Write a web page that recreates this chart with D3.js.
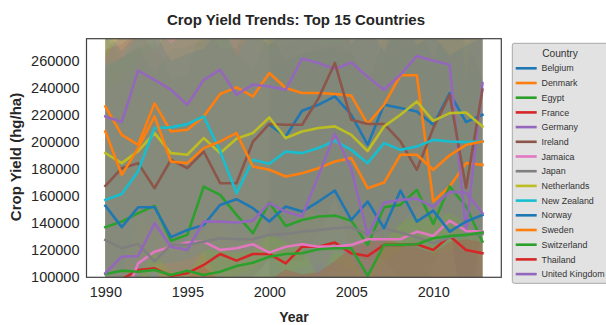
<!DOCTYPE html>
<html>
<head>
<meta charset="utf-8">
<script src="https://cdn.jsdelivr.net/npm/d3@7"></script>
<style>
  body { margin: 0; background: #fff; }
  svg { display: block; }
  text { font-family: "Liberation Sans", Arial, sans-serif; }
</style>
</head>
<body>
<svg id="chart" width="606" height="325"></svg>
<script>
// Years on the x axis
const years = [1990,1991,1992,1993,1994,1995,1996,1997,1998,1999,2000,2001,
               2002,2003,2004,2005,2006,2007,2008,2009,2010,2011,2012,2013];

const countries = ["Belgium","Denmark","Egypt","France","Germany","Ireland","Jamaica",
                   "Japan","Netherlands","New Zealand","Norway","Sweden","Switzerland",
                   "Thailand","United Kingdom"];

const palette = ["#1f77b4","#ff7f0e","#2ca02c","#d62728","#9467bd","#8c564b","#e377c2",
                 "#7f7f7f","#bcbd22","#17becf","#1f77b4","#ff7f0e","#2ca02c","#d62728","#9467bd"];

const yTicks = [100000,120000,140000,160000,180000,200000,220000,240000,260000];
const xTicks = [1990,1995,2000,2005,2010];

// Mean yield per year (hg/ha)
const belgium = [null,null,null,null,null,null,null,null,null,null,
  212500,203900,222900,227300,233400,219900,197700,227300,224900,222300,212500,235900,214500,219900];
const denmark = [226000,205100,197700,228300,207600,208800,218700,235200,240100,233400,250700,239600,
  235900,235900,235200,234000,213000,227300,249000,249000,155900,167000,184200,183000];
const egypt = [137000,141100,147300,152700,127000,131300,166900,160800,146000,132500,155100,137900,
  142300,144800,145500,141800,123900,151700,153400,164500,139400,167000,152200,126300];
const france = [96000,98500,105400,106600,101000,103000,109100,117200,112300,117200,117200,110300,
  122600,122600,125600,117700,115700,123900,123900,124400,120200,130500,120200,117700];
const germany = [218600,214500,252400,245700,238400,227300,245700,253200,234700,242100,240800,238400,
  261300,258000,253700,258500,248000,238400,249400,263300,259800,256800,133700,243300];
const ireland = [167400,180500,184200,165700,186700,180500,192800,169400,169400,200000,213100,212500,
  212500,232000,258100,216200,213100,213100,200200,179300,210000,234700,165700,238400];
const jamaica = [78000,80000,110300,118900,122600,125600,126300,120200,121400,124400,118200,122600,
  124400,122600,122600,123900,128100,128100,128100,133700,130500,141800,134200,133700];
const japan = [127500,121400,124600,111800,123900,123900,126300,128800,128100,128100,131300,132000,
  133700,134900,136200,137000,131300,136200,133000,129600,125100,129600,131300,132000];
const netherlands = [191600,184200,193100,206400,191600,190400,202700,191600,202200,206400,217900,202700,
  207600,210100,211300,205100,193100,211300,219900,229700,215400,221100,221600,211300];
const newZealand = [157100,161500,178300,210100,210600,213000,218700,193000,162000,186700,183700,192800,
  191600,195300,200700,194000,184200,199000,194000,196500,201400,200200,199700,200200];
const norway = [152700,137000,151700,151700,129600,134900,138600,153400,157600,151000,141100,152200,
  148500,155900,164000,142300,155900,136200,164000,141100,149200,133700,141100,146000];
const sweden = [207600,175600,195300,218700,185400,184200,195300,200200,206400,181700,179300,174300,
  176800,180500,185400,187900,165700,169900,190400,190400,179300,190000,197700,200200];
const switzerland = [102400,104900,104100,105400,101700,104900,101700,104100,108300,110800,115200,117200,
  117700,120700,121400,121400,101000,123900,123900,124400,128800,130500,131300,133000];
const thailand = [84000,86000,87000,85000,89000,88000,90000,86000,91000,92000,89000,93000,
  94000,92000,95000,93000,96000,94000,97000,95000,96000,98000,97000,96000];
const unitedKingdom = [103000,115200,115700,139900,122600,120200,141100,141100,140400,141800,154700,148500,
  144800,175000,205900,180000,131300,155000,157200,158000,152000,163000,162500,147300];

// 95% confidence bands (lower / upper)
const belgiumLow = [null,null,null,null,null,null,null,null,null,null,
  60000,52000,70000,74000,80000,66000,48000,74000,72000,70000,60000,82000,62000,66000];
const belgiumHigh = [null,null,null,null,null,null,null,null,null,null,
  365000,356000,376000,380000,388000,372000,348000,380000,378000,375000,366000,390000,368000,374000];
const denmarkLow = [70000,52000,44000,74000,54000,56000,66000,82000,86000,80000,96000,86000,
  82000,82000,82000,80000,60000,74000,94000,94000,10000,20000,34000,32000];
const denmarkHigh = [382000,358000,352000,384000,362000,362000,372000,390000,395000,388000,405000,394000,
  390000,390000,390000,388000,366000,380000,404000,404000,302000,314000,334000,332000];
const egyptLow = [20000,24000,30000,34000,8000,12000,46000,40000,26000,12000,34000,16000,
  22000,24000,24000,20000,4000,30000,32000,44000,18000,46000,32000,6000];
const egyptHigh = [254000,262000,268000,275000,246000,250000,292000,285000,266000,253000,280000,260000,
  265000,268000,270000,266000,244000,276000,278000,290000,262000,292000,276000,248000];
const franceLow = [6000,8500,15000,16000,11000,13000,19000,27000,22000,27000,27000,20000,
  32000,32000,35000,27000,25000,33000,33000,34000,30000,40000,30000,27000];
const franceHigh = [268000,272000,282000,284000,276000,280000,286000,296000,290000,296000,296000,288000,
  302000,302000,306000,296000,294000,304000,304000,304000,300000,312000,300000,296000];
const germanyLow = [108000,104000,142000,135000,128000,117000,135000,143000,124000,132000,130000,128000,
  151000,148000,143000,148000,138000,128000,139000,153000,150000,147000,23000,133000];
const germanyHigh = [328000,324000,362000,356000,348000,337000,356000,363000,344000,352000,350000,348000,
  371000,368000,363000,368000,358000,348000,359000,373000,370000,367000,243000,353000];
const irelandLow = [67000,80000,84000,66000,87000,80000,93000,69000,69000,100000,113000,112000,
  112000,132000,158000,116000,113000,113000,100000,79000,110000,135000,66000,138000];
const irelandHigh = [267000,280000,284000,266000,287000,280000,293000,269000,269000,300000,313000,312000,
  312000,332000,358000,316000,313000,313000,300000,279000,310000,335000,266000,338000];
const jamaicaLow = [-40000,-38000,-8000,0,4000,7000,8000,2000,3000,6000,0,4000,
  6000,4000,4000,6000,10000,10000,10000,15000,12000,23000,16000,15000];
const jamaicaHigh = [240000,245000,262000,270000,275000,282000,284000,268000,270000,276000,266000,272000,
  276000,272000,272000,276000,282000,282000,282000,292000,286000,300000,290000,290000];
const japanLow = [-20000,-26000,-22000,-36000,-24000,-24000,-21000,-18000,-19000,-19000,-16000,-15000,
  -13000,-12000,-11000,-10000,-16000,-11000,-14000,-18000,-22000,-18000,-16000,-15000];
const japanHigh = [278000,262000,270000,250000,268000,270000,275000,282000,280000,280000,286000,288000,
  290000,292000,294000,296000,285000,294000,290000,284000,275000,284000,288000,290000];
const netherlandsLow = [91600,84200,93100,106400,91600,90400,102700,91600,102200,106400,117900,102700,
  107600,110100,111300,105100,93100,111300,119900,129700,115400,121100,121600,111300];
const netherlandsHigh = [291600,284200,293100,306400,291600,290400,302700,291600,302200,306400,317900,302700,
  307600,310100,311300,305100,293100,311300,319900,329700,315400,321100,321600,311300];
const newZealandLow = [57000,61500,78000,110000,110600,113000,118700,93000,62000,86700,83700,92800,
  91600,95300,100700,94000,84200,99000,94000,96500,101400,100200,99700,100200];
const newZealandHigh = [257000,261500,278000,310000,310600,313000,318700,293000,262000,286700,283700,292800,
  291600,295300,300700,294000,284200,299000,294000,296500,301400,300200,299700,300200];
const norwayLow = [22700,7000,21700,21700,-400,4900,8600,23400,27600,21000,11100,22200,
  18500,25900,34000,12300,25900,6200,34000,11100,19200,3700,11100,16000];
const norwayHigh = [282700,267000,281700,281700,259600,264900,268600,283400,287600,281000,271100,282200,
  278500,285900,294000,272300,285900,266200,294000,271100,279200,263700,271100,276000];
const swedenLow = [97600,65600,85300,108700,75400,74200,85300,90200,96400,71700,69300,64300,
  66800,70500,75400,77900,55700,59900,80400,80400,69300,80000,87700,90200];
const swedenHigh = [317600,285600,305300,328700,295400,294200,305300,310200,316400,291700,289300,284300,
  286800,290500,295400,297900,275700,279900,300400,300400,289300,300000,307700,310200];
const switzerlandLow = [-60000,-58000,-58000,-57000,-60000,-58000,-60000,-58000,-55000,-52000,-48000,-46000,
  -45000,-42000,-41000,-41000,-60000,-38000,-38000,-38000,-34000,-32000,-32000,-30000];
const switzerlandHigh = [282000,284000,276000,286000,272000,284000,278000,284000,290000,295000,300000,304000,
  305000,310000,312000,312000,290000,315000,314000,316000,320000,324000,325000,328000];
const thailandLow = [30000,32000,33000,31000,35000,34000,36000,32000,37000,38000,35000,39000,
  40000,38000,41000,39000,42000,40000,43000,41000,42000,44000,43000,42000];
const thailandHigh = [85000,88000,92000,95000,97000,100000,108000,98000,100000,96000,98000,106000,
  102000,104000,112000,122000,126000,128000,125000,122000,118000,126000,128000,126000];
const unitedKingdomLow = [88000,98000,99000,118000,104000,102000,120000,120000,118000,120000,132000,126000,
  122000,100000,120000,115000,95000,125000,140000,145000,140000,148000,140000,125000];
const unitedKingdomHigh = [262000,280000,282000,305000,290000,288000,308000,308000,306000,308000,320000,314000,
  310000,345000,372000,350000,300000,322000,324000,326000,318000,330000,330000,315000];

const means = [belgium,denmark,egypt,france,germany,ireland,jamaica,japan,netherlands,
               newZealand,norway,sweden,switzerland,thailand,unitedKingdom];
const lows = [belgiumLow,denmarkLow,egyptLow,franceLow,germanyLow,irelandLow,jamaicaLow,japanLow,
              netherlandsLow,newZealandLow,norwayLow,swedenLow,switzerlandLow,thailandLow,unitedKingdomLow];
const highs = [belgiumHigh,denmarkHigh,egyptHigh,franceHigh,germanyHigh,irelandHigh,jamaicaHigh,japanHigh,
               netherlandsHigh,newZealandHigh,norwayHigh,swedenHigh,switzerlandHigh,thailandHigh,unitedKingdomHigh];

const series = countries.map((name, i) => ({
  name,
  color: palette[i],
  points: years.map((yr, j) => ({ year: yr, v: means[i][j], lo: lows[i][j], hi: highs[i][j] }))
}));

// Layout
const plot = { left: 86.5, right: 501.3, top: 38.7, bottom: 277.3 };

const x = d3.scaleLinear().domain([1988.85, 2014.15]).range([plot.left, plot.right]);
const y = d3.scaleLinear().domain([100000, 276000]).range([plot.bottom, plot.top]);

const svg = d3.select("#chart");
svg.append("rect").attr("width", 606).attr("height", 325).attr("fill", "#fff");

svg.append("defs").append("clipPath").attr("id", "plot-clip")
  .append("rect")
  .attr("x", plot.left).attr("y", plot.top)
  .attr("width", plot.right - plot.left).attr("height", plot.bottom - plot.top);

const body = svg.append("g").attr("clip-path", "url(#plot-clip)");

// Confidence bands underneath every line
const band = d3.area()
  .defined(d => d.lo != null && d.hi != null)
  .x(d => x(d.year))
  .y0(d => y(d.lo))
  .y1(d => y(d.hi));

body.selectAll("path.band").data(series).join("path")
  .attr("class", "band")
  .attr("d", s => band(s.points))
  .attr("fill", s => s.color)
  .attr("fill-opacity", 0.2)
  .attr("stroke", "none");

// Mean lines
const line = d3.line()
  .defined(d => d.v != null)
  .x(d => x(d.year))
  .y(d => y(d.v));

body.selectAll("path.trend").data(series).join("path")
  .attr("class", "trend")
  .attr("d", s => line(s.points))
  .attr("fill", "none")
  .attr("stroke", s => s.color)
  .attr("stroke-width", 2.6)
  .attr("stroke-linejoin", "round")
  .attr("stroke-linecap", "square");

// Axes
const yAxis = d3.axisLeft(y).tickValues(yTicks).tickSize(0).tickPadding(7).tickFormat(d3.format("d"));
const xAxis = d3.axisBottom(x).tickValues(xTicks).tickSize(0).tickPadding(9).tickFormat(d3.format("d"));

const gy = svg.append("g").attr("transform", `translate(${plot.left},0)`).call(yAxis);
const gx = svg.append("g").attr("transform", `translate(0,${plot.bottom})`).call(xAxis);
[gy, gx].forEach(g => {
  g.select(".domain").remove();
  g.selectAll("text").attr("font-size", "14.5px").attr("fill", "#262626")
    .attr("font-family", "'Liberation Sans', Arial, sans-serif");
});

// Frame
svg.append("rect")
  .attr("x", plot.left).attr("y", plot.top)
  .attr("width", plot.right - plot.left).attr("height", plot.bottom - plot.top)
  .attr("fill", "none").attr("stroke", "#404040").attr("stroke-width", 1.2);

// Titles
svg.append("text")
  .attr("x", 296).attr("y", 25)
  .attr("text-anchor", "middle")
  .attr("font-size", "15px").attr("font-weight", "bold").attr("fill", "#262626")
  .text("Crop Yield Trends: Top 15 Countries");

svg.append("text")
  .attr("transform", "translate(16,157) rotate(-90)")
  .attr("text-anchor", "middle").attr("dy", "0.35em")
  .attr("font-size", "15px").attr("font-weight", "bold").attr("fill", "#262626")
  .text("Crop Yield (hg/ha)");

svg.append("text")
  .attr("x", 294).attr("y", 317).attr("dy", "0.35em")
  .attr("text-anchor", "middle")
  .attr("font-size", "14px").attr("font-weight", "bold").attr("fill", "#262626")
  .text("Year");

// Legend
const legend = svg.append("g");
legend.append("rect")
  .attr("x", 512.3).attr("y", 43.3).attr("width", 110).attr("height", 240)
  .attr("rx", 2)
  .attr("fill", "#e2e2e2").attr("stroke", "#a8a8a8").attr("stroke-width", 1);
legend.append("text")
  .attr("x", 560).attr("y", 53).attr("dy", "0.35em")
  .attr("text-anchor", "middle")
  .attr("font-size", "10.2px").attr("fill", "#333")
  .text("Country");

const items = legend.selectAll("g.item").data(series).join("g")
  .attr("class", "item")
  .attr("transform", (s, i) => `translate(0,${68.3 + i * 14.7})`);
items.append("line")
  .attr("x1", 515.7).attr("x2", 536.7)
  .attr("stroke", s => s.color).attr("stroke-width", 2.6);
items.append("text")
  .attr("x", 541.5).attr("dy", "0.35em")
  .attr("font-size", "8.9px").attr("fill", "#333")
  .text(s => s.name);
</script>
</body>
</html>
